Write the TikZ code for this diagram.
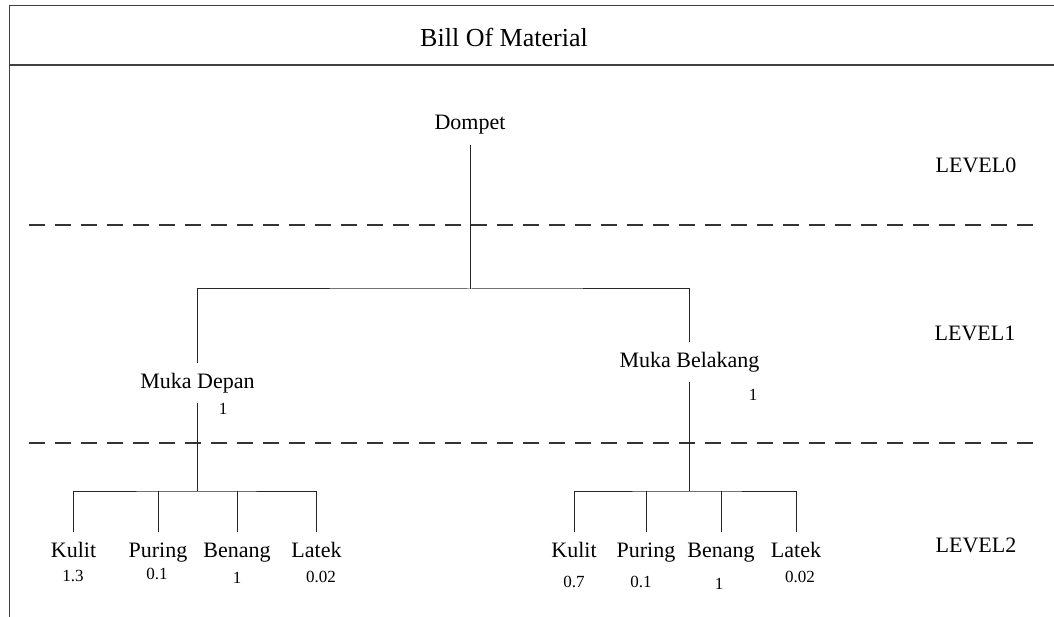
\documentclass[tikz,border=0pt]{standalone}
\usepackage{fontspec}
\setmainfont{Liberation Serif}
\tikzset{
  part/.style={font=\fontsize{22}{24}\selectfont,text height=15pt,text depth=5pt,inner xsep=2pt,inner ysep=10pt},
  qty/.style={font=\fontsize{17}{19}\selectfont,inner sep=1pt},
  lvl/.style={font=\fontsize{22}{24}\selectfont,inner sep=1pt},
  frame/.style={line width=1.5pt,draw=black!75},
  sep/.style={line width=1.6pt,draw=black!80,dash pattern=on 16pt off 10pt},
  link/.style={line width=1pt,draw=black!85}
}
\begin{document}
\begin{tikzpicture}[x=1pt,y=-1pt]
\useasboundingbox (0,0) rectangle (1054,617);
% frame and title
\draw[frame] (1054,5.7)--(9.5,5.7)--(9.5,617);
\draw[frame] (9.5,65)--(1054,65);
\node[font=\fontsize{26}{28}\selectfont,inner sep=1pt] (title) at (504,37.5) {Bill Of Material};
% levels
\draw[sep] (29,225)--(1043,225);
\draw[sep] (29,443)--(1043,443);
\node[lvl] (lv0) at (976,165) {LEVEL0};
\node[lvl] (lv1) at (975,333) {LEVEL1};
\node[lvl] (lv2) at (976,545) {LEVEL2};
% parts
\node[part] (dompet) at (470,125) {Dompet};
\node[part] (depan) at (197.5,383) {Muka Depan};
\node[part] (belakang) at (689.5,362) {Muka Belakang};
\node[qty] (qdepan) at (223,409) {1};
\node[qty] (qbelakang) at (753,395) {1};
\node[part] (kulitL) at (73.5,552) {Kulit};
\node[part] (puringL) at (158,552) {Puring};
\node[part] (benangL) at (237,552) {Benang};
\node[part] (latekL) at (316.5,552) {Latek};
\node[qty] (qkulitL) at (73,576) {1.3};
\node[qty] (qpuringL) at (157,574) {0.1};
\node[qty] (qbenangL) at (237,578) {1};
\node[qty] (qlatekL) at (321,577) {0.02};
\node[part] (kulitR) at (574,552) {Kulit};
\node[part] (puringR) at (646,552) {Puring};
\node[part] (benangR) at (721,552) {Benang};
\node[part] (latekR) at (796,552) {Latek};
\node[qty] (qkulitR) at (574,582) {0.7};
\node[qty] (qpuringR) at (641,582) {0.1};
\node[qty] (qbenangR) at (719,584) {1};
\node[qty] (qlatekR) at (800,577) {0.02};
% connectors
\coordinate (bar0) at (470,289);
\coordinate (barL) at (198,491);
\coordinate (barR) at (689,491);
\draw[link] (dompet.south)--(dompet.south |- bar0);
\draw[link] (depan.north) |- (bar0) -| (belakang.north);
\draw[link] (depan.south)--(depan.south |- barL);
\draw[link] (belakang.south)--(belakang.south |- barR);
\draw[link] (kulitL.north) |- (barL) -| (latekL.north);
\draw[link] (kulitR.north) |- (barR) -| (latekR.north);
\foreach \n in {puringL,benangL,puringR,benangR}
  \draw[link] (\n.north)--(\n.north |- barL);
\end{tikzpicture}
\end{document}
